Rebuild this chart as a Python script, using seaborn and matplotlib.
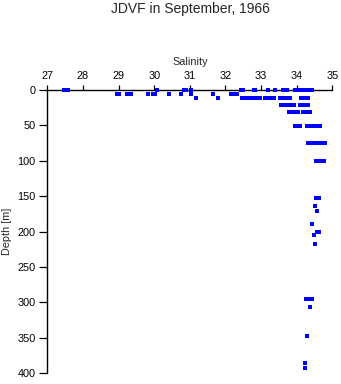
import matplotlib
matplotlib.use("Agg")
import matplotlib.pyplot as plt
import seaborn as sns
import pandas as pd

# Data (salinity per depth level)
depth_levels = [0, 6, 11, 21, 31, 51, 75, 100, 152, 164, 171, 189, 200, 205, 218, 295, 307, 348, 385, 393]
salinity_by_level = [
    [27.48, 27.59, 30.09, 30.85, 30.9, 31.02, 32.44, 32.5, 32.79, 32.84, 33.19, 33.4,
     33.63, 33.68, 33.74, 33.94, 34.0, 34.05, 34.1, 34.15, 34.2, 34.25, 34.3, 34.36, 34.43],
    [28.97, 29.02, 29.23, 29.36, 29.83, 29.97, 30.02, 30.43, 30.75, 31.04, 31.66,
     32.16, 32.2, 32.25, 32.33],
    [31.16, 31.78, 32.47, 32.55, 32.59, 32.66, 32.7, 32.76, 32.82, 32.88, 32.94, 32.97,
     33.12, 33.18, 33.24, 33.3, 33.36, 33.54, 33.61, 33.68, 33.74, 33.8,
     34.12, 34.18, 34.24, 34.31],
    [33.57, 33.63, 33.69, 33.75, 33.81, 33.87, 33.93, 34.1, 34.16, 34.22, 34.28, 34.31],
    [33.79, 33.85, 33.93, 33.99, 34.05, 34.17, 34.22, 34.27, 34.32, 34.37],
    [33.94, 33.99, 34.04, 34.1, 34.28, 34.34, 34.47, 34.52, 34.57, 34.62, 34.66],
    [34.33, 34.4, 34.44, 34.5, 34.56, 34.62, 34.68, 34.74, 34.79],
    [34.53, 34.58, 34.66, 34.72, 34.78],
    [34.55, 34.6, 34.63],
    [34.51],
    [34.58],
    [34.42],
    [34.56, 34.6, 34.64],
    [34.49],
    [34.51],
    [34.27, 34.31, 34.38, 34.43],
    [34.37],
    [34.29],
    [34.24],
    [34.24],
]
x_ticks = [27, 28, 29, 30, 31, 32, 33, 34, 35]
y_ticks = [0, 50, 100, 150, 200, 250, 300, 350, 400]

rows = []
for d, sals in zip(depth_levels, salinity_by_level):
    for s in sals:
        rows.append({"Salinity": s, "Depth": d})
df = pd.DataFrame(rows)

sns.set_style("white")
plt.rcParams["font.family"] = ["Liberation Sans", "DejaVu Sans"]

fig = plt.figure(figsize=(3.41, 3.84), dpi=100)
ax = fig.add_axes([47.3 / 341, 1 - 373.3 / 384, (332.3 - 47.3) / 341, (373.3 - 90) / 384])

sns.scatterplot(data=df, x="Salinity", y="Depth", ax=ax, marker="s", s=5,
                color="#0000ff", linewidth=0, legend=False, zorder=5, clip_on=False,
                antialiased=False)

ax.set_xlim(27, 35)
ax.set_ylim(400, 0)
ax.set_xticks(x_ticks)
ax.set_yticks(y_ticks)
ax.xaxis.tick_top()
ax.xaxis.set_label_position("top")
ax.set_xlabel("Salinity", fontsize=7.8, labelpad=4)
ax.set_ylabel("Depth [m]", fontsize=7.8, labelpad=4)
ax.tick_params(axis="x", direction="out", length=3.6, width=0.9, pad=3.0,
               labelsize=7.8, colors="black", top=True, bottom=False)
ax.tick_params(axis="y", direction="out", length=5.5, width=0.9, pad=3.0,
               labelsize=7.8, colors="black", left=True)
for side in ["right", "bottom"]:
    ax.spines[side].set_visible(False)
for side in ["top", "left"]:
    ax.spines[side].set_visible(True)
    ax.spines[side].set_color("black")
    ax.spines[side].set_linewidth(1.0)
    ax.spines[side].set_zorder(2)

fig.text(190 / 341, 1 - 9 / 384, "JDVF in September, 1966", ha="center", va="center", fontsize=10)

fig.savefig("out.png", dpi=100)
